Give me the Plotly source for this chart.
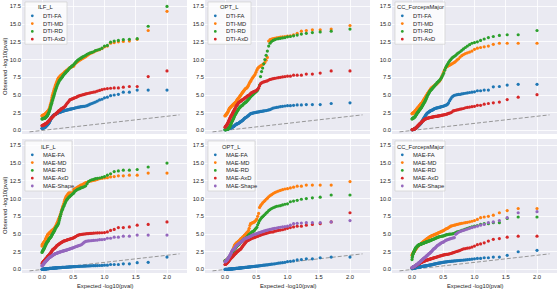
import plotly.graph_objects as go

W, H = 560, 290

# Expected -log10(p) for ranks 1..100
EXPECTED = [2.0, 1.699, 1.523, 1.398, 1.301, 1.222, 1.155, 1.097, 1.046, 1.0,
            0.959, 0.921, 0.886, 0.854, 0.824, 0.796, 0.770, 0.745, 0.721, 0.699,
            0.678, 0.658, 0.638, 0.620, 0.602, 0.585, 0.569, 0.553, 0.538, 0.523,
            0.509, 0.495, 0.481, 0.469, 0.456, 0.444, 0.432, 0.420, 0.409, 0.398,
            0.387, 0.377, 0.367, 0.357, 0.347, 0.337, 0.328, 0.319, 0.310, 0.301,
            0.292, 0.284, 0.276, 0.268, 0.260, 0.252, 0.244, 0.237, 0.229, 0.222,
            0.215, 0.208, 0.201, 0.194, 0.187, 0.180, 0.174, 0.167, 0.161, 0.155,
            0.149, 0.143, 0.137, 0.131, 0.125, 0.119, 0.114, 0.108, 0.102, 0.097,
            0.092, 0.086, 0.081, 0.076, 0.071, 0.066, 0.060, 0.056, 0.051, 0.046,
            0.041, 0.036, 0.032, 0.027, 0.022, 0.018, 0.013, 0.009, 0.004, 0.0]

REF_LINE = [-0.2, 2.2]

# ---------------- ILF_L, DTI ----------------
ILF_DTI_FA = [5.7, 5.7, 5.7, 5.4, 5.4, 5.1, 5.0, 4.9, 4.7, 4.6,
              4.4, 4.3, 4.15, 4.0, 3.9, 3.8, 3.7, 3.6, 3.5, 3.45,
              3.4, 3.4, 3.35, 3.35, 3.3, 3.3, 3.25, 3.2, 3.2, 3.15,
              3.1, 3.1, 3.05, 3.05, 3.0, 3.0, 2.95, 2.95, 2.9, 2.9,
              2.85, 2.85, 2.8, 2.8, 2.75, 2.75, 2.7, 2.7, 2.65, 2.6,
              2.6, 2.55, 2.55, 2.5, 2.5, 2.45, 2.4, 2.4, 2.35, 2.3,
              2.3, 2.25, 2.2, 2.2, 2.15, 2.1, 2.05, 2.0, 1.9, 1.8,
              1.7, 1.6, 1.5, 1.4, 1.3, 1.2, 1.1, 1.0, 0.95, 0.9,
              0.85, 0.8, 0.75, 0.7, 0.65, 0.6, 0.55, 0.5, 0.5, 0.45,
              0.45, 0.4, 0.4, 0.35, 0.35, 0.35, 0.3, 0.3, 0.3, 0.3]
ILF_DTI_MD = [16.8, 14.1, 12.85, 12.6, 12.55, 12.5, 12.4, 12.3, 11.9, 11.8,
              11.55, 11.4, 11.3, 11.2, 11.05, 10.95, 10.85, 10.7, 10.55, 10.4,
              10.3, 10.2, 10.1, 10.0, 9.9, 9.8, 9.7, 9.6, 9.5, 9.35,
              9.1, 9.05, 9.0, 8.95, 8.9, 8.85, 8.75, 8.65, 8.55, 8.5,
              8.45, 8.35, 8.3, 8.2, 8.1, 8.0, 7.95, 7.9, 7.8, 7.75,
              7.7, 7.6, 7.5, 7.45, 7.35, 7.2, 7.0, 6.85, 6.7, 6.5,
              6.35, 6.15, 5.95, 5.75, 5.55, 5.35, 5.15, 4.95, 4.7, 4.4,
              4.15, 3.9, 3.7, 3.5, 3.3, 3.15, 3.0, 2.9, 2.8, 2.75,
              2.7, 2.65, 2.6, 2.55, 2.5, 2.45, 2.4, 2.35, 2.3, 2.3,
              2.25, 2.25, 2.2, 2.2, 2.15, 2.15, 2.1, 2.1, 2.1, 2.05]
ILF_DTI_RD = [17.5, 14.7, 12.95, 12.85, 12.8, 12.7, 12.6, 12.45, 12.0, 11.9,
              11.6, 11.45, 11.35, 11.25, 11.1, 11.0, 10.95, 10.85, 10.75, 10.6,
              10.5, 10.4, 10.3, 10.2, 10.1, 10.0, 9.9, 9.75, 9.6, 9.45,
              9.3, 9.2, 9.1, 9.0, 8.9, 8.8, 8.7, 8.55, 8.45, 8.35,
              8.25, 8.15, 8.05, 7.95, 7.85, 7.75, 7.6, 7.5, 7.4, 7.3,
              7.2, 7.1, 7.0, 6.85, 6.7, 6.55, 6.4, 6.2, 6.0, 5.85,
              5.65, 5.45, 5.2, 5.0, 4.8, 4.6, 4.45, 4.25, 4.05, 3.85,
              3.7, 3.5, 3.3, 3.1, 2.95, 2.8, 2.65, 2.5, 2.4, 2.3,
              2.2, 2.1, 2.05, 2.0, 1.95, 1.9, 1.85, 1.8, 1.8, 1.75,
              1.75, 1.7, 1.7, 1.7, 1.7, 1.65, 1.65, 1.65, 1.65, 1.6]
ILF_DTI_AXD = [8.4, 7.6, 6.2, 6.2, 6.1, 6.0, 6.0, 5.95, 5.9, 5.85,
               5.75, 5.65, 5.55, 5.45, 5.4, 5.35, 5.3, 5.25, 5.2, 5.15,
               5.1, 5.05, 5.0, 4.95, 4.9, 4.85, 4.8, 4.7, 4.65, 4.6,
               4.55, 4.5, 4.45, 4.4, 4.35, 4.3, 4.15, 4.0, 3.9, 3.8,
               3.65, 3.5, 3.4, 3.3, 3.25, 3.2, 3.15, 3.1, 3.05, 3.0,
               2.9, 2.85, 2.8, 2.75, 2.7, 2.6, 2.55, 2.5, 2.4, 2.35,
               2.3, 2.25, 2.2, 2.15, 2.1, 2.0, 1.95, 1.9, 1.85, 1.8,
               1.75, 1.7, 1.65, 1.6, 1.5, 1.45, 1.4, 1.35, 1.3, 1.25,
               1.2, 1.15, 1.1, 1.05, 1.0, 0.98, 0.95, 0.92, 0.9, 0.88,
               0.85, 0.82, 0.8, 0.78, 0.76, 0.74, 0.72, 0.7, 0.7, 0.68]

# ---------------- OPT_L, DTI ----------------
OPT_DTI_FA = [3.9, 3.8, 3.65, 3.65, 3.65, 3.6, 3.6, 3.55, 3.5, 3.5,
              3.45, 3.4, 3.35, 3.3, 3.25, 3.2, 3.15, 3.05, 2.95, 2.9,
              2.85, 2.8, 2.78, 2.75, 2.72, 2.7, 2.68, 2.65, 2.62, 2.6,
              2.58, 2.55, 2.52, 2.5, 2.48, 2.45, 2.42, 2.4, 2.35, 2.3,
              2.2, 2.1, 2.05, 2.0, 1.9, 1.85, 1.8, 1.75, 1.7, 1.6,
              1.5, 1.45, 1.4, 1.35, 1.3, 1.25, 1.2, 1.15, 1.1, 1.05,
              1.0, 0.98, 0.95, 0.92, 0.9, 0.88, 0.85, 0.8, 0.75, 0.7,
              0.65, 0.6, 0.55, 0.52, 0.5, 0.48, 0.45, 0.42, 0.4, 0.38,
              0.35, 0.33, 0.32, 0.3, 0.28, 0.27, 0.25, 0.24, 0.22, 0.2,
              0.19, 0.18, 0.17, 0.15, 0.14, 0.13, 0.12, 0.11, 0.1, 0.1]
OPT_DTI_MD = [14.8, 14.3, 14.2, 14.2, 14.1, 14.0, 13.7, 13.5, 13.35, 13.3,
              13.25, 13.2, 13.15, 13.1, 13.05, 13.0, 12.95, 12.9, 12.8, 12.6,
              10.3, 9.9, 9.6, 9.4, 9.3, 9.2, 9.1, 9.0, 8.9, 8.75,
              8.5, 8.2, 7.9, 7.75, 7.6, 7.45, 7.3, 7.1, 6.95, 6.8,
              6.6, 6.4, 6.25, 6.1, 6.0, 5.95, 5.9, 5.8, 5.7, 5.6,
              5.5, 5.4, 5.3, 5.2, 5.1, 5.0, 4.9, 4.8, 4.7, 4.6,
              4.55, 4.5, 4.4, 4.3, 4.2, 4.1, 4.0, 3.95, 3.9, 3.85,
              3.8, 3.75, 3.7, 3.65, 3.6, 3.55, 3.5, 3.45, 3.4, 3.35,
              3.3, 3.25, 3.2, 3.15, 3.1, 3.0, 2.9, 2.8, 2.7, 2.6,
              2.5, 2.45, 2.4, 2.35, 2.3, 2.25, 2.2, 2.15, 2.1, 2.05]
OPT_DTI_RD = [14.3, 14.0, 13.9, 13.8, 13.7, 13.6, 13.45, 13.35, 13.25, 13.2,
              13.1, 13.05, 13.0, 12.95, 12.9, 12.8, 12.7, 12.55, 12.3, 11.9,
              11.2, 10.6, 10.0, 9.4, 8.8, 8.3, 7.6, 6.4, 6.0, 5.7,
              5.55, 5.45, 5.35, 5.25, 5.15, 5.05, 4.95, 4.85, 4.75, 4.65,
              4.5, 4.4, 4.3, 4.2, 4.1, 4.0, 3.95, 3.9, 3.85, 3.8,
              3.7, 3.6, 3.55, 3.5, 3.45, 3.4, 3.3, 3.25, 3.2, 3.1,
              3.0, 2.9, 2.8, 2.7, 2.6, 2.5, 2.4, 2.3, 2.2, 2.1,
              2.0, 1.85, 1.7, 1.6, 1.5, 1.4, 1.3, 1.2, 1.05, 0.95,
              0.85, 0.75, 0.65, 0.55, 0.45, 0.4, 0.35, 0.3, 0.25, 0.22,
              0.2, 0.18, 0.16, 0.15, 0.14, 0.13, 0.12, 0.11, 0.1, 0.1]
OPT_DTI_AXD = [8.4, 8.4, 8.1, 7.95, 7.95, 7.8, 7.8, 7.8, 7.65, 7.65,
               7.6, 7.55, 7.5, 7.45, 7.4, 7.35, 7.3, 7.25, 7.2, 7.1,
               7.0, 6.95, 6.9, 6.85, 6.8, 6.7, 6.6, 6.3, 6.0, 5.85,
               5.7, 5.6, 5.55, 5.5, 5.45, 5.4, 5.35, 5.3, 5.2, 5.1,
               5.0, 4.95, 4.9, 4.85, 4.75, 4.7, 4.65, 4.6, 4.5, 4.45,
               4.4, 4.35, 4.3, 4.25, 4.2, 4.15, 4.1, 4.05, 4.0, 3.95,
               3.9, 3.8, 3.7, 3.6, 3.55, 3.45, 3.35, 3.2, 3.1, 3.0,
               2.9, 2.8, 2.7, 2.6, 2.5, 2.4, 2.3, 2.2, 2.1, 2.05,
               1.95, 1.85, 1.75, 1.65, 1.55, 1.45, 1.35, 1.25, 1.15, 1.05,
               0.95, 0.9, 0.85, 0.75, 0.7, 0.65, 0.6, 0.55, 0.5, 0.45]

# ---------------- CC_ForcepsMajor, DTI ----------------
CC_DTI_FA = [6.5, 6.5, 6.4, 6.2, 6.15, 5.7, 5.7, 5.6, 5.6, 5.45,
             5.4, 5.35, 5.3, 5.25, 5.2, 5.15, 5.1, 5.08, 5.05, 5.0,
             4.95, 4.85, 4.7, 4.45, 4.2, 3.9, 3.7, 3.6, 3.55, 3.5,
             3.45, 3.4, 3.38, 3.35, 3.3, 3.28, 3.25, 3.22, 3.2, 3.18,
             3.15, 3.12, 3.1, 3.05, 3.0, 2.95, 2.9, 2.85, 2.82, 2.8,
             2.75, 2.7, 2.65, 2.6, 2.55, 2.5, 2.45, 2.35, 2.3, 2.2,
             2.1, 2.0, 1.9, 1.8, 1.7, 1.6, 1.5, 1.4, 1.3, 1.2,
             1.1, 1.0, 0.95, 0.9, 0.85, 0.8, 0.75, 0.7, 0.65, 0.6,
             0.55, 0.5, 0.48, 0.45, 0.42, 0.4, 0.35, 0.3, 0.28, 0.25,
             0.22, 0.2, 0.18, 0.16, 0.14, 0.13, 0.12, 0.11, 0.1, 0.1]
CC_DTI_MD = [12.3, 12.3, 12.3, 12.3, 12.15, 11.9, 11.8, 11.7, 11.6, 11.45,
             11.2, 11.05, 10.95, 10.85, 10.7, 10.55, 10.35, 10.1, 9.95, 9.75,
             9.6, 9.5, 9.4, 9.3, 9.2, 9.15, 9.05, 9.0, 8.8, 8.6,
             8.3, 8.0, 7.7, 7.45, 7.2, 7.0, 6.9, 6.8, 6.7, 6.6,
             6.5, 6.45, 6.4, 6.3, 6.25, 6.2, 6.1, 6.05, 6.0, 5.9,
             5.75, 5.65, 5.55, 5.45, 5.35, 5.25, 5.15, 5.0, 4.9, 4.8,
             4.7, 4.6, 4.5, 4.4, 4.3, 4.2, 4.1, 4.0, 3.9, 3.85,
             3.8, 3.75, 3.7, 3.6, 3.55, 3.5, 3.4, 3.35, 3.3, 3.25,
             3.2, 3.15, 3.1, 3.0, 2.95, 2.9, 2.85, 2.8, 2.75, 2.7,
             2.65, 2.6, 2.55, 2.5, 2.5, 2.45, 2.45, 2.4, 2.4, 2.35]
CC_DTI_RD = [14.1, 13.5, 13.5, 13.4, 13.25, 13.1, 12.9, 12.7, 12.5, 12.4,
             12.3, 12.1, 11.9, 11.7, 11.5, 11.3, 11.1, 10.95, 10.8, 10.6,
             10.45, 10.35, 10.2, 10.0, 9.8, 9.6, 9.35, 9.1, 8.85, 8.5,
             8.1, 7.85, 7.6, 7.4, 7.25, 7.1, 7.0, 6.9, 6.8, 6.7,
             6.55, 6.45, 6.35, 6.25, 6.15, 6.05, 5.95, 5.85, 5.75, 5.7,
             5.6, 5.5, 5.4, 5.25, 5.1, 5.0, 4.85, 4.7, 4.55, 4.4,
             4.25, 4.1, 4.0, 3.9, 3.8, 3.7, 3.6, 3.5, 3.4, 3.3,
             3.2, 3.15, 3.1, 3.0, 2.95, 2.9, 2.8, 2.75, 2.65, 2.6,
             2.55, 2.5, 2.4, 2.35, 2.25, 2.2, 2.1, 2.05, 2.0, 1.95,
             1.9, 1.85, 1.8, 1.8, 1.75, 1.75, 1.7, 1.7, 1.65, 1.6]
CC_DTI_AXD = [5.05, 4.7, 4.35, 4.0, 3.9, 3.8, 3.7, 3.55, 3.55, 3.4,
              3.35, 3.3, 3.25, 3.2, 3.1, 3.05, 3.0, 2.95, 2.9, 2.85,
              2.8, 2.75, 2.6, 2.5, 2.45, 2.4, 2.35, 2.3, 2.25, 2.22,
              2.2, 2.18, 2.15, 2.12, 2.1, 2.08, 2.05, 2.05, 2.02, 2.0,
              2.0, 1.98, 1.97, 1.95, 1.93, 1.92, 1.9, 1.88, 1.86, 1.85,
              1.83, 1.82, 1.8, 1.78, 1.76, 1.74, 1.72, 1.7, 1.68, 1.65,
              1.62, 1.58, 1.55, 1.5, 1.45, 1.4, 1.35, 1.3, 1.25, 1.2,
              1.15, 1.1, 1.05, 1.0, 0.95, 0.9, 0.85, 0.8, 0.75, 0.7,
              0.65, 0.6, 0.55, 0.5, 0.45, 0.4, 0.35, 0.3, 0.28, 0.25,
              0.22, 0.2, 0.18, 0.16, 0.15, 0.14, 0.13, 0.12, 0.11, 0.1]

# ---------------- ILF_L, MAE ----------------
ILF_MAE_FA = [1.75, 1.0, 0.95, 0.8, 0.8, 0.7, 0.7, 0.7, 0.6, 0.6,
              0.57, 0.56, 0.55, 0.54, 0.53, 0.52, 0.51, 0.5, 0.49, 0.48,
              0.47, 0.46, 0.45, 0.45, 0.44, 0.43, 0.42, 0.42, 0.41, 0.4,
              0.39, 0.38, 0.38, 0.37, 0.36, 0.35, 0.35, 0.34, 0.33, 0.33,
              0.32, 0.31, 0.31, 0.3, 0.3, 0.29, 0.28, 0.28, 0.27, 0.27,
              0.26, 0.26, 0.25, 0.25, 0.24, 0.24, 0.23, 0.23, 0.22, 0.22,
              0.21, 0.21, 0.2, 0.2, 0.19, 0.19, 0.18, 0.18, 0.17, 0.17,
              0.16, 0.16, 0.15, 0.15, 0.14, 0.14, 0.13, 0.13, 0.12, 0.12,
              0.11, 0.11, 0.1, 0.1, 0.09, 0.09, 0.08, 0.08, 0.07, 0.07,
              0.07, 0.06, 0.06, 0.05, 0.05, 0.04, 0.04, 0.03, 0.03, 0.02]
ILF_MAE_MD = [13.6, 13.6, 13.3, 13.3, 13.2, 13.2, 13.1, 13.05, 12.95, 12.9,
              12.85, 12.8, 12.7, 12.6, 12.55, 12.5, 12.45, 12.4, 12.3, 12.25,
              12.15, 12.05, 11.95, 11.9, 11.8, 11.7, 11.6, 11.5, 11.45, 11.35,
              11.3, 11.2, 11.1, 11.05, 11.0, 10.9, 10.8, 10.7, 10.55, 10.4,
              10.3, 10.1, 9.9, 9.6, 9.3, 9.0, 8.8, 8.5, 8.2, 7.9,
              7.7, 7.5, 7.3, 7.15, 7.0, 6.8, 6.6, 6.45, 6.3, 6.15,
              6.05, 5.95, 5.85, 5.75, 5.7, 5.65, 5.6, 5.55, 5.5, 5.45,
              5.4, 5.35, 5.3, 5.25, 5.2, 5.15, 5.1, 5.05, 5.0, 4.95,
              4.9, 4.8, 4.7, 4.6, 4.5, 4.4, 4.3, 4.2, 4.1, 4.0,
              3.95, 3.9, 3.85, 3.8, 3.7, 3.65, 3.6, 3.55, 3.5, 3.3]
ILF_MAE_RD = [15.0, 14.45, 14.1, 14.0, 14.0, 13.9, 13.8, 13.5, 13.3, 13.1,
              13.0, 12.9, 12.85, 12.8, 12.7, 12.65, 12.55, 12.4, 12.1, 11.8,
              11.7, 11.6, 11.55, 11.5, 11.4, 11.35, 11.3, 11.2, 11.1, 11.0,
              10.8, 10.7, 10.6, 10.5, 10.4, 10.3, 10.2, 10.1, 9.95, 9.85,
              9.7, 9.5, 9.3, 9.1, 8.9, 8.7, 8.5, 8.3, 8.1, 7.8,
              7.5, 7.2, 6.9, 6.6, 6.4, 6.3, 6.2, 6.1, 6.0, 5.9,
              5.8, 5.65, 5.5, 5.4, 5.3, 5.2, 5.1, 5.0, 4.9, 4.8,
              4.7, 4.6, 4.55, 4.5, 4.4, 4.35, 4.3, 4.2, 4.1, 4.0,
              3.95, 3.9, 3.85, 3.75, 3.7, 3.6, 3.5, 3.4, 3.3, 3.2,
              3.1, 3.0, 2.95, 2.9, 2.8, 2.7, 2.65, 2.6, 2.5, 2.4]
ILF_MAE_AXD = [6.7, 6.35, 6.25, 6.0, 5.9, 5.9, 5.65, 5.5, 5.3, 5.2,
               5.18, 5.16, 5.15, 5.14, 5.12, 5.1, 5.08, 5.06, 5.04, 5.02,
               5.0, 4.98, 4.95, 4.92, 4.9, 4.85, 4.8, 4.72, 4.64, 4.55,
               4.48, 4.42, 4.38, 4.35, 4.32, 4.28, 4.25, 4.22, 4.2, 4.15,
               4.1, 4.08, 4.05, 4.02, 4.0, 3.95, 3.9, 3.85, 3.8, 3.75,
               3.7, 3.65, 3.6, 3.55, 3.5, 3.45, 3.4, 3.35, 3.25, 3.2,
               3.1, 3.05, 3.0, 2.95, 2.9, 2.85, 2.8, 2.75, 2.65, 2.55,
               2.5, 2.4, 2.3, 2.25, 2.2, 2.1, 2.05, 2.0, 1.95, 1.9,
               1.85, 1.8, 1.7, 1.65, 1.6, 1.55, 1.5, 1.45, 1.4, 1.35,
               1.3, 1.25, 1.2, 1.15, 1.1, 1.05, 1.0, 0.95, 0.9, 0.8]
ILF_MAE_SHAPE = [4.85, 4.85, 4.85, 4.7, 4.7, 4.55, 4.55, 4.4, 4.4, 4.25,
                 4.22, 4.2, 4.15, 4.12, 4.1, 4.08, 4.05, 4.02, 4.0, 3.95,
                 3.85, 3.7, 3.55, 3.45, 3.4, 3.35, 3.3, 3.25, 3.2, 3.15,
                 3.1, 3.05, 3.0, 2.98, 2.95, 2.9, 2.85, 2.82, 2.78, 2.75,
                 2.72, 2.7, 2.68, 2.65, 2.62, 2.6, 2.58, 2.55, 2.52, 2.5,
                 2.48, 2.45, 2.42, 2.4, 2.38, 2.35, 2.32, 2.3, 2.28, 2.25,
                 2.22, 2.2, 2.15, 2.12, 2.1, 2.05, 2.0, 1.98, 1.95, 1.9,
                 1.85, 1.8, 1.78, 1.75, 1.72, 1.7, 1.65, 1.6, 1.55, 1.5,
                 1.45, 1.4, 1.35, 1.3, 1.25, 1.2, 1.15, 1.1, 1.05, 1.0,
                 0.95, 0.9, 0.85, 0.8, 0.75, 0.7, 0.65, 0.6, 0.55, 0.5]

# ---------------- OPT_L, MAE ----------------
OPT_MAE_FA = [1.75, 1.75, 1.65, 1.5, 1.5, 1.4, 1.35, 1.2, 1.15, 1.1,
              1.0, 0.95, 0.92, 0.88, 0.84, 0.8, 0.77, 0.74, 0.71, 0.68,
              0.66, 0.64, 0.62, 0.6, 0.58, 0.56, 0.54, 0.52, 0.5, 0.48,
              0.47, 0.46, 0.44, 0.43, 0.42, 0.41, 0.4, 0.38, 0.37, 0.36,
              0.35, 0.34, 0.33, 0.32, 0.31, 0.3, 0.29, 0.28, 0.27, 0.26,
              0.25, 0.24, 0.24, 0.23, 0.22, 0.21, 0.21, 0.2, 0.19, 0.18,
              0.18, 0.17, 0.16, 0.16, 0.15, 0.14, 0.14, 0.13, 0.12, 0.12,
              0.11, 0.11, 0.1, 0.1, 0.09, 0.09, 0.08, 0.08, 0.07, 0.07,
              0.06, 0.06, 0.05, 0.05, 0.05, 0.04, 0.04, 0.04, 0.03, 0.03,
              0.03, 0.02, 0.02, 0.02, 0.02, 0.01, 0.01, 0.01, 0.01, 0.0]
OPT_MAE_MD = [12.4, 11.9, 11.9, 11.9, 11.9, 11.75, 11.75, 11.6, 11.5, 11.4,
              11.35, 11.25, 11.15, 11.05, 10.95, 10.85, 10.7, 10.55, 10.4, 10.25,
              10.05, 9.9, 9.7, 9.55, 9.4, 9.2, 9.0, 8.75, 7.9, 7.5,
              7.1, 6.95, 6.8, 6.7, 6.65, 6.6, 6.55, 6.5, 6.45, 6.2,
              5.8, 5.5, 5.35, 5.25, 5.15, 5.05, 4.95, 4.85, 4.8, 4.7,
              4.6, 4.55, 4.5, 4.4, 4.35, 4.3, 4.2, 4.15, 4.05, 4.0,
              3.95, 3.9, 3.85, 3.8, 3.75, 3.7, 3.65, 3.55, 3.5, 3.4,
              3.3, 3.15, 3.0, 2.85, 2.7, 2.6, 2.5, 2.4, 2.3, 2.2,
              2.1, 2.0, 1.9, 1.8, 1.75, 1.7, 1.65, 1.6, 1.55, 1.5,
              1.45, 1.4, 1.4, 1.35, 1.3, 1.3, 1.25, 1.25, 1.2, 1.2]
OPT_MAE_RD = [10.5, 10.5, 10.2, 10.1, 10.0, 9.9, 9.75, 9.65, 9.55, 9.25,
              9.2, 9.1, 9.0, 8.95, 8.9, 8.8, 8.7, 8.6, 8.45, 8.3,
              8.1, 7.95, 7.75, 7.6, 7.45, 7.3, 7.1, 6.9, 6.6, 6.3,
              5.95, 5.8, 5.65, 5.5, 5.4, 5.35, 5.3, 5.2, 5.1, 5.0,
              4.95, 4.85, 4.75, 4.65, 4.55, 4.5, 4.4, 4.35, 4.3, 4.25,
              4.15, 4.1, 4.0, 3.95, 3.9, 3.8, 3.75, 3.7, 3.6, 3.55,
              3.5, 3.45, 3.4, 3.35, 3.3, 3.2, 3.1, 3.0, 2.95, 2.9,
              2.85, 2.8, 2.7, 2.6, 2.5, 2.4, 2.3, 2.2, 2.1, 2.05,
              2.0, 1.95, 1.9, 1.85, 1.8, 1.7, 1.65, 1.6, 1.55, 1.5,
              1.45, 1.4, 1.4, 1.35, 1.3, 1.3, 1.25, 1.25, 1.2, 1.2]
OPT_MAE_AXD = [8.0, 6.7, 6.45, 6.35, 6.25, 6.1, 6.1, 6.0, 5.9, 5.8,
               5.7, 5.6, 5.55, 5.5, 5.45, 5.4, 5.3, 5.28, 5.25, 5.2,
               5.15, 5.1, 5.05, 5.0, 4.95, 4.9, 4.85, 4.8, 4.75, 4.7,
               4.65, 4.6, 4.55, 4.5, 4.47, 4.44, 4.4, 4.35, 4.3, 4.25,
               4.2, 4.15, 4.1, 4.05, 4.0, 3.9, 3.8, 3.7, 3.6, 3.5,
               3.4, 3.3, 3.2, 3.1, 3.0, 2.9, 2.85, 2.8, 2.75, 2.7,
               2.65, 2.6, 2.55, 2.5, 2.45, 2.4, 2.3, 2.25, 2.2, 2.15,
               2.1, 2.05, 2.0, 1.9, 1.85, 1.8, 1.75, 1.7, 1.65, 1.6,
               1.55, 1.5, 1.45, 1.4, 1.35, 1.3, 1.2, 1.15, 1.1, 1.05,
               1.0, 0.95, 0.9, 0.9, 0.85, 0.8, 0.8, 0.75, 0.7, 0.7]
OPT_MAE_SHAPE = [6.9, 6.7, 6.6, 6.6, 6.6, 6.55, 6.5, 6.45, 6.25, 6.1,
                 6.05, 6.0, 5.95, 5.9, 5.85, 5.8, 5.75, 5.7, 5.65, 5.6,
                 5.55, 5.5, 5.45, 5.4, 5.35, 5.3, 5.25, 5.2, 5.15, 5.1,
                 5.05, 5.0, 4.98, 4.95, 4.9, 4.85, 4.8, 4.75, 4.7, 4.65,
                 4.6, 4.55, 4.5, 4.48, 4.45, 4.42, 4.4, 4.35, 4.3, 4.25,
                 4.2, 4.1, 4.0, 3.95, 3.9, 3.85, 3.8, 3.75, 3.7, 3.65,
                 3.6, 3.55, 3.5, 3.45, 3.4, 3.35, 3.3, 3.2, 3.1, 3.0,
                 2.95, 2.9, 2.85, 2.8, 2.75, 2.7, 2.6, 2.5, 2.4, 2.3,
                 2.2, 2.1, 2.0, 1.95, 1.9, 1.8, 1.7, 1.65, 1.6, 1.5,
                 1.45, 1.4, 1.35, 1.3, 1.25, 1.2, 1.2, 1.15, 1.1, 1.1]

# ---------------- CC_ForcepsMajor, MAE ----------------
CC_MAE_FA = [2.7, 2.5, 2.0, 1.75, 1.75, 1.65, 1.65, 1.55, 1.55, 1.5,
             1.45, 1.42, 1.38, 1.35, 1.32, 1.3, 1.28, 1.26, 1.24, 1.22,
             1.2, 1.18, 1.17, 1.15, 1.13, 1.12, 1.1, 1.08, 1.06, 1.04,
             1.02, 1.0, 0.98, 0.96, 0.94, 0.92, 0.9, 0.88, 0.86, 0.84,
             0.82, 0.8, 0.78, 0.76, 0.74, 0.72, 0.7, 0.68, 0.66, 0.65,
             0.63, 0.62, 0.6, 0.59, 0.58, 0.56, 0.55, 0.54, 0.52, 0.51,
             0.5, 0.49, 0.48, 0.47, 0.46, 0.45, 0.44, 0.43, 0.42, 0.41,
             0.4, 0.39, 0.38, 0.37, 0.36, 0.35, 0.34, 0.33, 0.32, 0.31,
             0.3, 0.29, 0.28, 0.27, 0.26, 0.25, 0.24, 0.23, 0.22, 0.21,
             0.2, 0.19, 0.18, 0.17, 0.16, 0.15, 0.14, 0.13, 0.12, 0.1]
CC_MAE_MD = [8.6, 8.6, 8.3, 8.0, 7.65, 7.5, 7.4, 7.3, 7.05, 6.9,
             6.8, 6.72, 6.65, 6.6, 6.55, 6.5, 6.45, 6.4, 6.35, 6.3,
             6.25, 6.2, 6.15, 6.1, 6.0, 5.9, 5.8, 5.75, 5.7, 5.6,
             5.5, 5.45, 5.4, 5.35, 5.3, 5.25, 5.2, 5.15, 5.1, 5.05,
             5.0, 4.98, 4.95, 4.9, 4.85, 4.82, 4.8, 4.75, 4.72, 4.7,
             4.65, 4.6, 4.55, 4.5, 4.45, 4.4, 4.35, 4.3, 4.25, 4.2,
             4.15, 4.1, 4.05, 4.0, 3.95, 3.9, 3.85, 3.8, 3.75, 3.7,
             3.65, 3.6, 3.58, 3.55, 3.52, 3.5, 3.45, 3.4, 3.35, 3.3,
             3.25, 3.2, 3.15, 3.1, 3.0, 2.95, 2.9, 2.8, 2.75, 2.7,
             2.6, 2.55, 2.5, 2.45, 2.4, 2.3, 2.25, 2.2, 2.1, 2.0]
CC_MAE_RD = [7.4, 7.4, 7.2, 6.6, 6.6, 6.45, 6.45, 6.35, 6.2, 6.1,
             6.0, 5.9, 5.8, 5.7, 5.6, 5.5, 5.4, 5.35, 5.3, 5.2,
             5.1, 5.05, 5.0, 5.0, 4.98, 4.95, 4.92, 4.9, 4.85, 4.8,
             4.75, 4.72, 4.7, 4.68, 4.65, 4.62, 4.6, 4.56, 4.52, 4.48,
             4.45, 4.4, 4.35, 4.32, 4.28, 4.25, 4.22, 4.2, 4.15, 4.1,
             4.08, 4.05, 4.02, 4.0, 3.98, 3.95, 3.92, 3.9, 3.88, 3.85,
             3.82, 3.8, 3.78, 3.75, 3.72, 3.7, 3.68, 3.66, 3.64, 3.62,
             3.6, 3.58, 3.56, 3.54, 3.52, 3.5, 3.48, 3.46, 3.42, 3.38,
             3.35, 3.3, 3.25, 3.2, 3.15, 3.1, 3.05, 3.0, 2.9, 2.8,
             2.7, 2.6, 2.5, 2.4, 2.3, 2.2, 2.1, 1.9, 1.7, 1.4]
CC_MAE_AXD = [4.7, 4.7, 4.55, 4.35, 4.25, 4.0, 3.75, 3.6, 3.5, 3.3,
              3.15, 3.05, 3.0, 2.95, 2.9, 2.8, 2.7, 2.62, 2.55, 2.5,
              2.42, 2.36, 2.3, 2.25, 2.2, 2.17, 2.14, 2.12, 2.1, 2.08,
              2.05, 2.02, 2.0, 1.95, 1.92, 1.9, 1.86, 1.82, 1.8, 1.76,
              1.72, 1.7, 1.68, 1.65, 1.62, 1.6, 1.56, 1.54, 1.52, 1.5,
              1.47, 1.45, 1.42, 1.4, 1.38, 1.36, 1.34, 1.32, 1.3, 1.28,
              1.25, 1.22, 1.2, 1.18, 1.15, 1.12, 1.1, 1.08, 1.05, 1.02,
              1.0, 0.97, 0.94, 0.91, 0.88, 0.85, 0.82, 0.8, 0.78, 0.75,
              0.72, 0.7, 0.67, 0.64, 0.62, 0.6, 0.56, 0.53, 0.5, 0.48,
              0.45, 0.42, 0.4, 0.38, 0.35, 0.33, 0.3, 0.28, 0.27, 0.25]
CC_MAE_SHAPE = [8.15, 8.0, 7.3, 6.9, 6.7, 6.6, 6.35, 6.25, 6.1, 6.0,
                5.9, 5.8, 5.7, 5.6, 5.5, 5.45, 5.35, 5.25, 5.1, 4.95,
                4.5, 4.45, 4.4, 4.35, 4.3, 4.25, 4.2, 4.15, 4.1, 4.0,
                3.9, 3.85, 3.8, 3.75, 3.65, 3.6, 3.5, 3.45, 3.4, 3.3,
                3.2, 3.1, 3.0, 2.95, 2.9, 2.8, 2.7, 2.6, 2.5, 2.45,
                2.35, 2.3, 2.25, 2.2, 2.1, 2.05, 2.0, 1.95, 1.85, 1.8,
                1.75, 1.7, 1.65, 1.6, 1.55, 1.5, 1.45, 1.4, 1.35, 1.3,
                1.25, 1.2, 1.15, 1.1, 1.05, 1.0, 0.95, 0.92, 0.88, 0.85,
                0.8, 0.75, 0.72, 0.7, 0.65, 0.62, 0.58, 0.55, 0.52, 0.5,
                0.47, 0.44, 0.42, 0.4, 0.37, 0.35, 0.32, 0.3, 0.28, 0.25]

TRACTS = ["ILF_L", "OPT_L", "CC_ForcepsMajor"]
DTI_LABELS = ["DTI-FA", "DTI-MD", "DTI-RD", "DTI-AxD"]
MAE_LABELS = ["MAE-FA", "MAE-MD", "MAE-RD", "MAE-AxD", "MAE-Shape"]
COLORS = ["#1f77b4", "#ff7f0e", "#2ca02c", "#d62728", "#9467bd"]

X_TICKS = [0.0, 0.5, 1.0, 1.5, 2.0]
Y_TICKS = [0.0, 2.5, 5.0, 7.5, 10.0, 12.5, 15.0, 17.5]
X_RANGE = [-0.32, 2.32]
Y_RANGE = [-0.5, 18.4]

panels = [
    (TRACTS[0], DTI_LABELS, [ILF_DTI_FA, ILF_DTI_MD, ILF_DTI_RD, ILF_DTI_AXD]),
    (TRACTS[1], DTI_LABELS, [OPT_DTI_FA, OPT_DTI_MD, OPT_DTI_RD, OPT_DTI_AXD]),
    (TRACTS[2], DTI_LABELS, [CC_DTI_FA, CC_DTI_MD, CC_DTI_RD, CC_DTI_AXD]),
    (TRACTS[0], MAE_LABELS, [ILF_MAE_FA, ILF_MAE_MD, ILF_MAE_RD, ILF_MAE_AXD, ILF_MAE_SHAPE]),
    (TRACTS[1], MAE_LABELS, [OPT_MAE_FA, OPT_MAE_MD, OPT_MAE_RD, OPT_MAE_AXD, OPT_MAE_SHAPE]),
    (TRACTS[2], MAE_LABELS, [CC_MAE_FA, CC_MAE_MD, CC_MAE_RD, CC_MAE_AXD, CC_MAE_SHAPE]),
]

# layout geometry in pixels
COLS_PX = [(22, 187), (205, 370), (392, 557)]
ROWS_PX = [(0, 134), (139, 273)]
LEGEND_W = [[42, 43, 50], [47, 47, 50]]

FONT = "Liberation Sans, Arial, sans-serif"
TXT = "#262626"
FS = 5.8


def px(x):
    return x / W


def py(y):
    return 1 - y / H


fig = go.Figure()
layout = dict(
    width=W, height=H, margin=dict(l=0, r=0, t=0, b=0),
    paper_bgcolor="white", plot_bgcolor="#EAEAF2", showlegend=False,
    font=dict(family=FONT, size=FS, color=TXT),
)
shapes = []
annotations = []

for i, (tract, labels, series) in enumerate(panels):
    r, c = divmod(i, 3)
    n = i + 1
    xa = "x" if n == 1 else f"x{n}"
    ya = "y" if n == 1 else f"y{n}"
    fig.add_trace(go.Scatter(x=REF_LINE, y=REF_LINE, mode="lines", xaxis=xa, yaxis=ya,
                             line=dict(color="#8c8c8c", width=0.9, dash="4px,2px"),
                             hoverinfo="skip"))
    for j, (lab, vals) in enumerate(zip(labels, series)):
        fig.add_trace(go.Scatter(x=EXPECTED, y=vals, mode="markers", name=lab,
                                 xaxis=xa, yaxis=ya,
                                 marker=dict(color=COLORS[j], size=3.2, line=dict(width=0))))
    x0, x1 = COLS_PX[c]
    y0, y1 = ROWS_PX[r]
    layout["xaxis" if n == 1 else f"xaxis{n}"] = dict(
        domain=[px(x0), px(x1)], range=X_RANGE, anchor=ya, tickvals=X_TICKS,
        ticktext=[f"{v:.1f}" for v in X_TICKS], showticklabels=(r == 1),
        showgrid=True, gridcolor="white", gridwidth=0.8, zeroline=False,
        showline=False, ticks="", ticklen=0, ticklabelstandoff=-1,
        tickfont=dict(size=FS, color=TXT, family=FONT))
    layout["yaxis" if n == 1 else f"yaxis{n}"] = dict(
        domain=[py(y1), py(y0)], range=Y_RANGE, anchor=xa, tickvals=Y_TICKS,
        ticktext=[f"{v:.1f}" for v in Y_TICKS], showticklabels=True,
        showgrid=True, gridcolor="white", gridwidth=0.8, zeroline=False,
        showline=False, ticks="", ticklen=0, tickfont=dict(size=FS, color=TXT, family=FONT))

    # legend box (drawn by hand, matplotlib-like)
    lw = LEGEND_W[r][c]
    bx0 = x0 + 3
    by0 = y0 + 2
    step = 7.8
    nitems = len(labels)
    by1 = by0 + 9 + step * nitems + 2
    shapes.append(dict(type="rect", xref="paper", yref="paper",
                       x0=px(bx0), x1=px(bx0 + lw), y0=py(by1), y1=py(by0),
                       fillcolor="rgba(255,255,255,0.75)", line=dict(color="#d0d0d0", width=0.7),
                       layer="above"))
    annotations.append(dict(xref="paper", yref="paper", x=px(bx0 + lw / 2), y=py(by0 + 5.5),
                            text=tract, showarrow=False, xanchor="center", yanchor="middle",
                            borderpad=0, font=dict(size=FS, color=TXT, family=FONT)))
    for j, lab in enumerate(labels):
        cy = by0 + 13.8 + step * j
        mx = bx0 + 7.3
        shapes.append(dict(type="circle", xref="paper", yref="paper",
                           x0=px(mx - 1.4), x1=px(mx + 1.4), y0=py(cy + 1.4), y1=py(cy - 1.4),
                           fillcolor=COLORS[j], line=dict(width=0), layer="above"))
        annotations.append(dict(xref="paper", yref="paper", x=px(bx0 + 17), y=py(cy),
                                text=lab, showarrow=False, xanchor="left", yanchor="middle",
                                borderpad=0, font=dict(size=FS, color=TXT, family=FONT)))

# axis titles
for r in range(2):
    y0, y1 = ROWS_PX[r]
    annotations.append(dict(xref="paper", yref="paper", x=px(5), y=py((y0 + y1) / 2),
                            text="Observed -log10(pval)", textangle=-90, showarrow=False,
                            xanchor="center", yanchor="middle", borderpad=0,
                            font=dict(size=FS, color=TXT, family=FONT)))
for c in range(3):
    x0, x1 = COLS_PX[c]
    annotations.append(dict(xref="paper", yref="paper", x=px((x0 + x1) / 2), y=py(285.5),
                            text="Expected -log10(pval)", showarrow=False,
                            xanchor="center", yanchor="middle", borderpad=0,
                            font=dict(size=FS, color=TXT, family=FONT)))

layout["shapes"] = shapes
layout["annotations"] = annotations
fig.update_layout(**layout)

# remove the browser's default page margin so the 560x290 figure fills the window
PAGE_FIX = ("document.body.style.margin='0px';document.body.style.padding='0px';"
            "document.documentElement.style.overflow='hidden';")
fig.write_html("out.html", post_script=PAGE_FIX,
               config={"displayModeBar": False, "staticPlot": True})
